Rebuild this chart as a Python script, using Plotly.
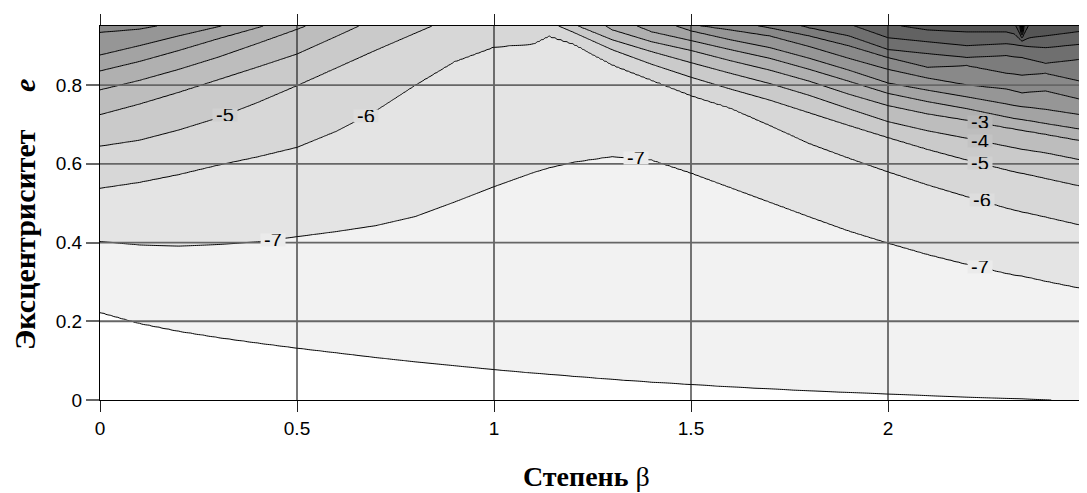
import numpy as np
import plotly.graph_objects as go

N = None

# Stepen beta (x) columns at which the contour crossings were read
beta = [0.0, 0.1, 0.2, 0.3, 0.4, 0.5, 0.6, 0.7, 0.8, 0.9, 1.0, 1.1, 1.14, 1.2, 1.3,
        1.4, 1.5, 1.6, 1.7, 1.8, 1.9, 2.0, 2.1, 2.2, 2.3, 2.32, 2.34, 2.36, 2.4, 2.5]

# contour levels
levels = list(range(-8, 11))

# eccentricity e where each level crosses each beta column (None = above chart top)
e_m8 = [0.223, 0.195, 0.175, 0.159, 0.145, 0.132, 0.120, 0.108, 0.097, 0.087, 0.077, 0.068, 0.065, 0.060, 0.052,
        0.045, 0.039, 0.033, 0.028, 0.023, 0.019, 0.015, 0.011, 0.007, 0.004, 0.0035, 0.003, 0.002, 0.0005, -0.003]
e_m7 = [0.403, 0.394, 0.391, 0.395, 0.402, 0.415, 0.428, 0.443, 0.466, 0.503, 0.542, 0.578, 0.590, 0.604, 0.619,
        0.610, 0.577, 0.540, 0.503, 0.466, 0.430, 0.399, 0.370, 0.345, 0.322, 0.318, 0.315, 0.311, 0.302, 0.282]
e_m6 = [0.538, 0.553, 0.573, 0.597, 0.618, 0.642, 0.683, 0.735, 0.800, 0.860, 0.897, 0.905, 0.925, 0.906, 0.852,
        0.813, 0.774, 0.742, 0.698, 0.652, 0.615, 0.580, 0.547, 0.517, 0.488, 0.483, 0.478, 0.474, 0.465, 0.442]
e_m5 = [0.645, 0.660, 0.686, 0.717, 0.756, 0.799, 0.844, 0.889, 0.932, 0.975, 1.000, 0.985, 0.960, 0.935, 0.890,
        0.853, 0.820, 0.790, 0.762, 0.730, 0.698, 0.667, 0.637, 0.610, 0.585, 0.580, 0.576, 0.572, 0.563, 0.541]
e_m4 = [0.725, 0.752, 0.782, 0.814, 0.846, 0.879, 0.924, 0.970, 1.020, N, N, N, 1.000, 0.955, 0.915,
        0.885, 0.857, 0.830, 0.804, 0.774, 0.740, 0.707, 0.684, 0.665, 0.645, 0.641, 0.637, 0.634, 0.628, 0.608]
e_m3 = [0.788, 0.812, 0.840, 0.871, 0.906, 0.942, 0.980, N, N, N, N, N, N, 1.000, 0.940,
        0.910, 0.888, 0.862, 0.838, 0.810, 0.777, 0.748, 0.727, 0.711, 0.692, 0.689, 0.685, 0.682, 0.675, 0.657]
e_m2 = [0.836, 0.860, 0.888, 0.918, 0.946, 0.975, N, N, N, N, N, N, N, N, 0.975,
        0.935, 0.913, 0.890, 0.868, 0.840, 0.810, 0.779, 0.758, 0.740, 0.719, 0.715, 0.712, 0.709, 0.702, 0.686]
e_m1 = [0.876, 0.900, 0.925, 0.948, 0.972, N, N, N, N, N, N, N, N, N, N,
        0.970, 0.938, 0.915, 0.895, 0.868, 0.838, 0.805, 0.787, 0.770, 0.752, 0.748, 0.745, 0.743, 0.738, 0.723]
e_0 = [0.934, 0.942, 0.960, 0.985, N, N, N, N, N, N, N, N, N, N, N,
       N, 0.953, 0.940, 0.925, 0.898, 0.868, 0.840, 0.818, 0.800, 0.790, 0.785, 0.780, 0.782, 0.785, 0.761]
e_1 = [0.975, 0.985, N, N, N, N, N, N, N, N, N, N, N, N, N,
       N, N, 0.962, 0.945, 0.925, 0.900, 0.870, 0.845, 0.850, 0.830, 0.828, 0.825, 0.827, 0.830, 0.807]
e_2 = [N, N, N, N, N, N, N, N, N, N, N, N, N, N, N,
       N, N, N, 0.970, 0.945, 0.925, 0.890, 0.880, 0.870, 0.875, 0.872, 0.870, 0.865, 0.855, 0.867]
e_3 = [N, N, N, N, N, N, N, N, N, N, N, N, N, N, N,
       N, N, N, N, 0.980, 0.955, 0.920, 0.910, 0.900, 0.905, 0.903, 0.900, 0.898, 0.895, 0.905]
e_4 = [N, N, N, N, N, N, N, N, N, N, N, N, N, N, N,
       N, N, N, N, N, N, 0.955, 0.940, 0.935, 0.935, 0.930, 0.912, 0.920, 0.925, 0.938]
e_5 = [N, N, N, N, N, N, N, N, N, N, N, N, N, N, N,
       N, N, N, N, N, N, N, 0.970, 0.965, 0.960, 0.958, 0.920, 0.957, 0.955, 0.965]
e_6 = [N] * 26 + [0.927, N, N, N]
e_7 = [N] * 26 + [0.934, N, N, N]
e_8 = [N] * 26 + [0.941, N, N, N]
e_9 = [N] * 26 + [0.948, N, N, N]
e_10 = [N] * 26 + [0.955, N, N, N]

crossings = [e_m8, e_m7, e_m6, e_m5, e_m4, e_m3, e_m2, e_m1, e_0, e_1,
             e_2, e_3, e_4, e_5, e_6, e_7, e_8, e_9, e_10]

# inline contour labels
label_text = ["-5", "-6", "-7", "-7", "-3", "-4", "-5", "-6", "-7"]
label_beta = [0.317, 0.675, 0.438, 1.36, 2.233, 2.233, 2.233, 2.238, 2.233]
label_e = [0.724, 0.722, 0.407, 0.614, 0.707, 0.659, 0.603, 0.507, 0.337]

x_ticks = [0, 0.5, 1, 1.5, 2]
x_ticktext = ["0", "0.5", "1", "1.5", "2"]
y_ticks = [0, 0.2, 0.4, 0.6, 0.8]
y_ticktext = ["0", "0.2", "0.4", "0.6", "0.8"]

# band fill colours, lowest band first
band_colors = ["#ffffff", "#f2f2f2", "#e4e4e4", "#d7d7d7", "#cacaca", "#bdbdbd", "#b0b0b0",
               "#a3a3a3", "#969696", "#898989", "#7c7c7c", "#6f6f6f", "#626262", "#555555",
               "#484848", "#3b3b3b", "#2e2e2e", "#212121", "#141414", "#080808"]

# ---- build the grid that the contour trace needs ----
nlev = len(levels)
full = np.zeros((len(beta), nlev))
for j in range(len(beta)):
    prev = None
    for k, arr in enumerate(crossings):
        v = arr[j]
        if v is None:          # level lies above the chart top at this column
            v = prev + 0.05
        full[j, k] = v
        prev = v

beta_grid = np.linspace(0.0, 2.5, 501)
e_grid = np.linspace(0.0, 0.95, 191)
lev_on_grid = np.array([np.interp(beta_grid, beta, full[:, k]) for k in range(nlev)])
z = np.zeros((len(e_grid), len(beta_grid)))
for j in range(len(beta_grid)):
    ys = np.concatenate([[-0.3], lev_on_grid[:, j]])
    zs = np.concatenate([[levels[0] - 1.0], levels])
    z[:, j] = np.interp(e_grid, ys, zs)

nb = len(band_colors)
colorscale = [[i / (nb - 1), c] for i, c in enumerate(band_colors)]

fig = go.Figure()
fig.add_trace(go.Contour(
    x=beta_grid, y=e_grid, z=z,
    autocontour=False,
    contours=dict(start=levels[0], end=levels[-1], size=1, coloring="fill", showlabels=False),
    colorscale=colorscale, showscale=False,
    line=dict(color="black", width=1, smoothing=1),
    hoverinfo="skip",
))

def mix(c1, c2):
    a = int(c1[1:3], 16)
    b = int(c2[1:3], 16)
    v = (a + b) // 2
    return "#%02x%02x%02x" % (v, v, v)

for t, xb, ye in zip(label_text, label_beta, label_e):
    k = int(t) - levels[0] + 1
    fig.add_annotation(
        x=xb, y=ye, xref="x", yref="y", text=t, showarrow=False,
        font=dict(family="Liberation Sans, Arial", size=20, color="black"),
        bgcolor=mix(band_colors[k - 1], band_colors[k]),
        borderpad=0, width=24, height=12,
    )

shapes = []
for xv in x_ticks[1:]:
    shapes.append(dict(type="line", xref="x", yref="paper", x0=xv, x1=xv, y0=0, y1=1,
                       line=dict(color="#1e1e1e", width=1.2), layer="above"))
for yv in y_ticks[1:]:
    shapes.append(dict(type="line", xref="paper", yref="y", x0=0, x1=1, y0=yv, y1=yv,
                       line=dict(color="#666666", width=1.8), layer="above"))

# the page body adds an 8 px offset, so the figure is sized to the remaining window
fig.update_layout(
    width=1079, height=485,
    margin=dict(l=92, r=2, t=18, b=92.5, autoexpand=False),
    paper_bgcolor="white", plot_bgcolor="white",
    showlegend=False,
    shapes=shapes,
    xaxis=dict(range=[0, 2.5], tickvals=x_ticks, ticktext=x_ticktext,
               ticks="outside", ticklen=11, tickwidth=1.2, tickcolor="#1e1e1e",
               showline=True, linecolor="black", linewidth=1.2, mirror="ticks",
               showgrid=False, zeroline=False, layer="above traces", automargin=False,
               tickfont=dict(family="Liberation Sans, Arial", size=19, color="black")),
    yaxis=dict(range=[0, 0.95], tickvals=y_ticks, ticktext=y_ticktext,
               ticks="outside", ticklen=13, tickwidth=1.8, tickcolor="#666666",
               showline=True, linecolor="black", linewidth=1.2, mirror="ticks",
               showgrid=False, zeroline=False, layer="above traces", automargin=False,
               tickfont=dict(family="Liberation Sans, Arial", size=19, color="black")),
)

fig.add_annotation(
    xref="paper", yref="paper", x=0.494, y=-0.205, xanchor="center", yanchor="middle",
    text="<b>Степень</b> β", showarrow=False,
    font=dict(family="Liberation Serif, Times New Roman", size=28, color="black"),
)
fig.add_annotation(
    xref="paper", yref="paper", x=-0.076, y=0.495, xanchor="center", yanchor="middle",
    text="<b>Эксцентриситет</b>\u00a0\u00a0\u00a0\u00a0\u00a0<b><i>e</i></b>", textangle=-90, showarrow=False,
    font=dict(family="Liberation Serif, Times New Roman", size=30, color="black"),
)

fig.write_html("out.html")
